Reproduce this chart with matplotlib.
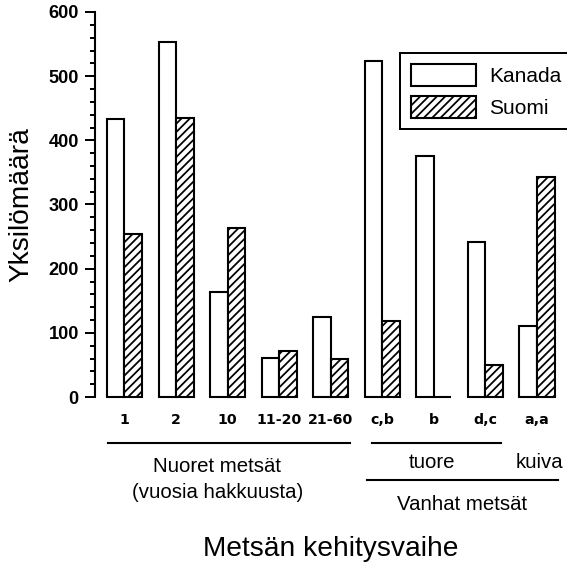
import numpy as np
import matplotlib
matplotlib.use("Agg")
import matplotlib.pyplot as plt
from matplotlib.transforms import blended_transform_factory
from matplotlib.ticker import MultipleLocator

# individuals per forest development stage
stages = ["1", "2", "10", "11-20", "21-60", "c,b", "b", "d,c", "a,a"]
kanada = [433, 553, 164, 61, 124, 524, 375, 241, 110]
suomi = [254, 435, 264, 71, 60, 119, 0, 50, 343]
series_names = ["Kanada", "Suomi"]

DPI = 75
W, H = 567, 569
plt.rcParams["hatch.linewidth"] = 1.7
plt.rcParams["font.family"] = ["Liberation Sans", "DejaVu Sans"]

fig = plt.figure(figsize=(W / DPI, H / DPI), dpi=DPI)
# axes placed in pixel terms: spine at x=95, y=0 at 397 px, y=600 at 12 px (from top)
ax = fig.add_axes([95 / W, 1 - 397 / H, 472 / W, 385 / H])

x = np.arange(len(stages))
bw = 0.34
edge = dict(edgecolor="black", linewidth=2.0, clip_on=False)
ax.bar(x - bw / 2, kanada, bw, facecolor="white", label=series_names[0], **edge)
ax.bar(x + bw / 2, suomi, bw, facecolor="white", hatch="///", label=series_names[1], **edge)

ax.set_xlim(-0.572, 8.582)
ax.set_ylim(0, 600)
for s in ("top", "right", "bottom"):
    ax.spines[s].set_visible(False)
ax.spines["left"].set_linewidth(2.0)

ax.yaxis.set_major_locator(MultipleLocator(100))
ax.yaxis.set_minor_locator(MultipleLocator(20))
ax.tick_params(axis="y", which="major", length=9.6, width=1.9, pad=6,
               labelsize=17.5, direction="out")
ax.tick_params(axis="y", which="minor", length=4.8, width=1.9, direction="out")
for lab in ax.get_yticklabels():
    lab.set_fontweight("bold")

ax.set_xticks(x, stages, fontfamily="DejaVu Sans", fontweight="bold", fontsize=13.5)
ax.tick_params(axis="x", length=0, pad=15)

ax.set_ylabel("Yksilömäärä", fontsize=27, va="center")
ax.yaxis.set_label_coords(-0.155, 0.5)
ax.set_xlabel("Metsän kehitysvaihe", fontsize=27, va="center")
ax.xaxis.set_label_coords(0.5, -0.395)

# grouping brackets below the stage labels
tr = blended_transform_factory(ax.transData, fig.transFigure)


def fy(py):
    return 1 - py / H


line_kw = dict(color="black", linewidth=2.0, transform=tr, clip_on=False)
ax.plot([-0.32, 4.37], [fy(443), fy(443)], **line_kw)
ax.plot([4.80, 7.30], [fy(443), fy(443)], **line_kw)
ax.plot([4.70, 8.41], [fy(480), fy(480)], **line_kw)

grp_kw = dict(transform=tr, ha="center", va="center", fontsize=19.5)
ax.text(1.8, fy(467), "Nuoret metsät", **grp_kw)
ax.text(1.8, fy(492), "(vuosia hakkuusta)", **grp_kw)
ax.text(5.96, fy(462), "tuore", **grp_kw)
ax.text(8.04, fy(462), "kuiva", **grp_kw)
ax.text(6.55, fy(505), "Vanhat metsät", **grp_kw)

leg = ax.legend(loc="upper right", bbox_to_anchor=(573 / W, 1 - 53 / H),
                bbox_transform=fig.transFigure, borderaxespad=0,
                fancybox=False, framealpha=1, edgecolor="black",
                prop={"size": 20},
                handlelength=3.1, handleheight=1.25, labelspacing=0.45,
                handletextpad=0.65, borderpad=0.55)
leg.get_frame().set_linewidth(1.9)

fig.savefig("out.png", dpi=DPI)
